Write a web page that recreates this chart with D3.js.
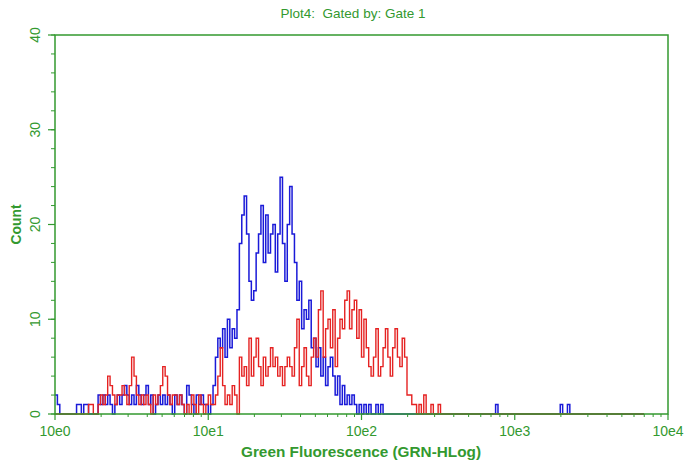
<!DOCTYPE html>
<html>
<head>
<meta charset="utf-8">
<script src="https://cdn.jsdelivr.net/npm/d3@7"></script>
<style>
  body { margin: 0; background: #fff; }
  svg text { font-family: "Liberation Sans", Arial, sans-serif; white-space: pre; }
</style>
</head>
<body>
<svg id="chart" width="686" height="464"></svg>
<script>
// histogram channels: 256 bins over 4 log decades (64 per decade)
const blueCounts = [
  2,1,0,0,0,0,0,0,0,1, 1,0,1,1,0,0,0,0,2,1, 2,1,2,1,0,1,2,1,2,3,
  2,1,2,1,3,2,1,2,3,1, 2,0,1,2,1,2,1,2,1,0, 2,1,2,1,0,3,2,1,0,2,
  1,2,1,1,0,1,3,6,8,7, 9,6,10,7,9,8,11,18,21,23, 19,14,12,13,17,19,22,16,21,17,
  19,20,15,19,25,18,14,20,24,19, 16,12,14,9,11,10,12,7,8,5, 7,4,6,3,5,6,4,2,4,1,
  3,1,2,1,2,1,0,1,0,1, 0,1,0,0,1,0,1,0,0,0, 0,0,0,0,0,0,0,0,0,0,
  0,0,0,0,0,0,0,0,0,0, 0,0,0,0,0,0,0,0,0,0, 0,0,0,0,0,0,0,0,0,0,
  0,0,0,0,1,0,0,0,0,0, 0,0,0,0,0,0,0,0,0,0, 0,0,0,0,0,0,0,0,0,0,
  0,1,0,0,1,0,0,0,0,0, 0,0,0,0,0,0,0,0,0,0, 0,0,0,0,0,0,0,0,0,0,
  0,0,0,0,0,0
];
const redCounts = [
  0,0,0,0,0,0,0,0,0,0, 0,0,0,0,1,1,0,0,1,2, 1,2,4,3,2,1,2,2,3,2,
  1,3,6,4,2,1,2,1,2,1, 0,2,1,2,3,5,4,2,1,2, 2,1,2,1,0,1,0,2,1,0,
  2,1,0,1,2,1,1,2,4,7, 3,1,2,1,3,2,0,6,4,5, 3,8,4,6,8,5,3,6,4,5,
  7,5,6,4,5,3,5,6,5,4, 7,10,3,5,7,4,3,6,8,6, 11,13,6,9,10,7,11,5,8,10,
  9,12,13,9,11,12,8,11,6,10, 7,5,4,6,9,4,5,7,9,6, 4,7,9,6,5,8,6,2,2,1,
  1,0,1,0,2,0,0,1,0,0, 1,0,0,0,0,0,0,0,0,0, 0,0,0,0,0,0,0,0,0,0,
  0,0,0,0,0,0,0,0,0,0, 0,0,0,0,0,0,0,0,0,0, 0,0,0,0,0,0,0,0,0,0,
  0,0,0,0,0,0,0,0,0,0, 0,0,0,0,0,0,0,0,0,0, 0,0,0,0,0,0,0,0,0,0,
  0,0,0,0,0,0
];
const xTickValues = [1, 10, 100, 1000, 10000];
const xTickLabels = ["10e0", "10e1", "10e2", "10e3", "10e4"];
const yTickValues = [0, 10, 20, 30, 40];
const binsPerDecade = 64;

const green = "#33992f";
const svg = d3.select("#chart");
const margin = {left: 55, right: 18, top: 35, bottom: 50};
const W = 686, H = 464;

const x = d3.scaleLog().domain([1, 10000]).range([margin.left, W - margin.right]);
const y = d3.scaleLinear().domain([0, 40]).range([H - margin.bottom, margin.top]);

// channel edge -> value
const chanVal = i => Math.pow(10, i / binsPerDecade);

function stepPath(counts) {
  const pts = [];
  counts.forEach((c, i) => {
    pts.push([x(chanVal(i)), y(c)]);
    pts.push([x(chanVal(i + 1)), y(c)]);
  });
  return d3.line()(pts);
}

svg.append("path").attr("d", stepPath(blueCounts))
  .attr("fill", "none").attr("stroke", "#1a1ad8").attr("stroke-width", 1.5);
svg.append("path").attr("d", stepPath(redCounts))
  .attr("fill", "none").attr("stroke", "#e52222").attr("stroke-width", 1.4);

// frame
svg.append("rect")
  .attr("x", margin.left).attr("y", margin.top)
  .attr("width", W - margin.right - margin.left)
  .attr("height", H - margin.bottom - margin.top)
  .attr("fill", "none").attr("stroke", green).attr("stroke-width", 1.5);

// x axis ticks
const minorX = [];
for (let d = 1; d < 10000; d *= 10) for (let k = 2; k <= 9; k++) minorX.push(d * k);
const base = H - margin.bottom;
svg.append("g").selectAll("line").data(minorX).join("line")
  .attr("x1", d => x(d)).attr("x2", d => x(d))
  .attr("y1", base).attr("y2", base + 3)
  .attr("stroke", green).attr("stroke-width", 1);
svg.append("g").selectAll("line").data(xTickValues).join("line")
  .attr("x1", d => x(d)).attr("x2", d => x(d))
  .attr("y1", base).attr("y2", base + 6)
  .attr("stroke", green).attr("stroke-width", 1.2);
svg.append("g").selectAll("text").data(xTickValues).join("text")
  .attr("x", d => x(d)).attr("y", base + 22)
  .attr("text-anchor", "middle").attr("fill", green)
  .attr("font-size", 14)
  .text((d, i) => xTickLabels[i]);

// y axis ticks
const minorY = d3.range(0, 41, 2);
svg.append("g").selectAll("line").data(minorY).join("line")
  .attr("x1", margin.left - 4).attr("x2", margin.left)
  .attr("y1", d => y(d)).attr("y2", d => y(d))
  .attr("stroke", green).attr("stroke-width", 1);
svg.append("g").selectAll("line").data(yTickValues).join("line")
  .attr("x1", margin.left - 7).attr("x2", margin.left)
  .attr("y1", d => y(d)).attr("y2", d => y(d))
  .attr("stroke", green).attr("stroke-width", 1.2);
svg.append("g").selectAll("text").data(yTickValues).join("text")
  .attr("transform", d => `translate(${margin.left - 15},${y(d)}) rotate(-90)`)
  .attr("text-anchor", "middle").attr("fill", green)
  .attr("font-size", 14)
  .text(d => d);

// titles
svg.append("text").attr("x", 353).attr("y", 18)
  .attr("text-anchor", "middle").attr("fill", green).attr("font-size", 13.5)
  .text("Plot4:  Gated by: Gate 1");
svg.append("text")
  .attr("transform", `translate(21,${(margin.top + H - margin.bottom) / 2}) rotate(-90)`)
  .attr("text-anchor", "middle").attr("fill", green)
  .attr("font-size", 15).attr("font-weight", "bold")
  .attr("textLength", 40).attr("lengthAdjust", "spacingAndGlyphs")
  .text("Count");
svg.append("text").attr("x", 361).attr("y", 457)
  .attr("text-anchor", "middle").attr("fill", green)
  .attr("font-size", 15).attr("font-weight", "bold")
  .attr("textLength", 240).attr("lengthAdjust", "spacingAndGlyphs")
  .text("Green Fluorescence (GRN-HLog)");
</script>
</body>
</html>
